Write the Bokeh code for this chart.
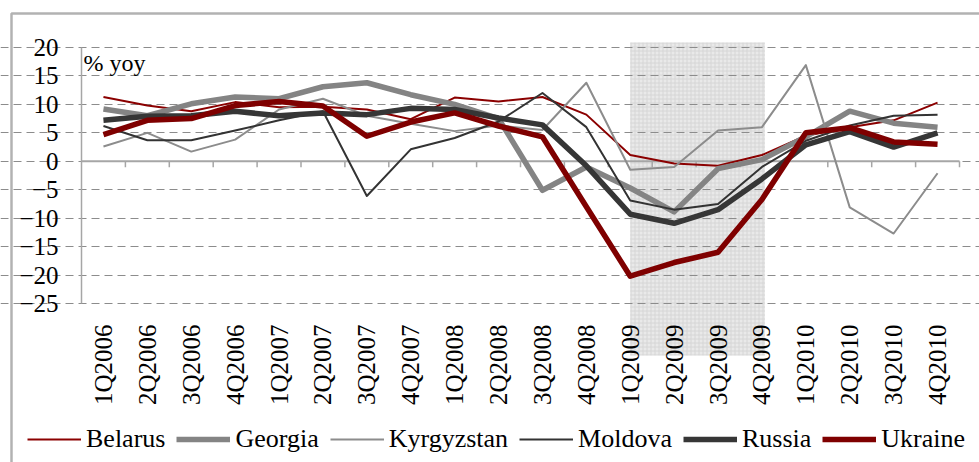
from bokeh.plotting import figure
from bokeh.models import (Range1d, FixedTicker, BoxAnnotation, Label, Legend, LegendItem)
from bokeh.embed import file_html
from bokeh.resources import INLINE
import math

quarters = ["1Q2006", "2Q2006", "3Q2006", "4Q2006", "1Q2007", "2Q2007", "3Q2007", "4Q2007",
            "1Q2008", "2Q2008", "3Q2008", "4Q2008", "1Q2009", "2Q2009", "3Q2009", "4Q2009",
            "1Q2010", "2Q2010", "3Q2010", "4Q2010"]

belarus = [11.3, 9.8, 8.8, 10.4, 9.5, 9.6, 9.1, 7.4, 11.2, 10.5, 11.3, 8.2,
           1.1, -0.4, -0.8, 1.1, 4.5, 6.0, 7.2, 10.3]
georgia = [9.2, 8.0, 10.1, 11.3, 11.0, 13.1, 13.8, 11.7, 10.0, 7.5, -5.1, -1.0,
           -4.7, -8.9, -1.3, 0.3, 4.3, 8.8, 6.7, 6.0]
kyrgyzstan = [2.6, 5.0, 1.7, 3.8, 9.1, 11.0, 8.0, 6.6, 5.3, 6.3, 5.5, 13.8,
              -1.5, -1.0, 5.4, 6.0, 16.9, -8.1, -12.7, -2.1]
moldova = [6.2, 3.7, 3.7, 5.4, 7.2, 8.8, -6.1, 2.1, 4.1, 7.0, 12.0, 6.0,
           -6.9, -8.5, -7.5, -1.0, 3.6, 6.3, 8.0, 8.2]
russia = [7.2, 7.9, 8.0, 8.8, 8.0, 8.5, 8.2, 9.3, 9.1, 7.6, 6.4, -0.8,
          -9.3, -10.9, -8.5, -3.1, 2.9, 5.2, 2.5, 5.0]
ukraine = [4.7, 7.2, 7.5, 9.8, 10.5, 9.7, 4.4, 6.9, 8.5, 6.2, 4.3, -8.0,
           -20.2, -17.8, -16.0, -6.7, 5.0, 5.9, 3.4, 3.0]

y_ticks = [-25, -20, -15, -10, -5, 0, 5, 10, 15, 20]
shade_from, shade_to = "1Q2009", "4Q2009"
unit_label = "% yoy"

series = [
    ("Belarus", belarus, "#8b0000", 2),
    ("Georgia", georgia, "#848484", 5.5),
    ("Kyrgyzstan", kyrgyzstan, "#8c8c8c", 2),
    ("Moldova", moldova, "#333333", 2),
    ("Russia", russia, "#363636", 5.5),
    ("Ukraine", ukraine, "#7f0000", 5.5),
]

FONT = "Liberation Serif"

# layout (pixels): canvas size and plot-area box inside it
W, H = 979, 462
PL, PR, PT, PB = 81, 959, 47, 303

n = len(quarters)
xs = list(range(n))
ymin, ymax = y_ticks[0], y_ticks[-1]
xlo, xhi = -0.5, n - 0.5
xu = (PR - PL) / (xhi - xlo)
yu = (PB - PT) / (ymax - ymin)
x_range = Range1d(xlo - PL / xu, xhi + (W - PR) / xu)
y_range = Range1d(ymin - (H - PB) / yu, ymax + PT / yu)

p = figure(width=W, height=H, x_range=x_range, y_range=y_range, title=None,
           output_backend="svg", toolbar_location=None,
           min_border=0, x_axis_type=None, y_axis_type=None)
p.outline_line_color = None
p.background_fill_color = "white"
p.border_fill_color = "white"
p.xgrid.visible = False

from bokeh.models import LinearAxis, Grid

yaxis = LinearAxis(ticker=FixedTicker(ticks=y_ticks), fixed_location=xlo, bounds=(ymin, ymax))
yaxis.axis_line_color = "#a6a6a6"
yaxis.axis_line_width = 1.5
yaxis.major_tick_line_color = None
yaxis.minor_tick_line_color = None
yaxis.major_label_text_font = FONT
yaxis.major_label_text_font_size = "25px"
yaxis.major_label_text_color = "black"
yaxis.major_label_standoff = 17
p.add_layout(yaxis, "left")

xaxis = LinearAxis(ticker=FixedTicker(ticks=xs), fixed_location=ymin,
                   major_label_overrides={i: q for i, q in enumerate(quarters)})
xaxis.axis_line_color = None
xaxis.major_tick_line_color = None
xaxis.minor_tick_line_color = None
xaxis.major_label_orientation = math.pi / 2
xaxis.major_label_text_font = FONT
xaxis.major_label_text_font_size = "25px"
xaxis.major_label_text_color = "black"
xaxis.major_label_standoff = 15
p.add_layout(xaxis, "below")

ygrid = Grid(dimension=1, ticker=FixedTicker(ticks=y_ticks), bounds=(xlo, xhi),
             grid_line_color="#8c8c8c", grid_line_dash="8 5", grid_line_width=1)
p.add_layout(ygrid)

# shaded band (recession period)
band = BoxAnnotation(left=quarters.index(shade_from), right=quarters.index(shade_to) + 0.07,
                     top=H - 42, bottom=H - 355, top_units="screen", bottom_units="screen",
                     fill_color="#e9e9e9", fill_alpha=1.0, line_color=None,
                     hatch_pattern="+", hatch_color="#d6d6d6", hatch_scale=4, hatch_weight=1,
                     level="image")
p.add_layout(band)

# zero axis line with category tick marks
p.segment(x0=[xlo], y0=[0], x1=[xhi], y1=[0], line_color="#a6a6a6", line_width=2)
bounds = [i + 0.5 for i in xs]
tick_len = 6 / yu
p.segment(x0=bounds, y0=[0] * n, x1=bounds, y1=[-tick_len] * n,
          line_color="#a6a6a6", line_width=1.5)

items = []
for name, vals, color, w in series:
    r = p.line(xs, vals, line_color=color, line_width=w, line_join="round")
    items.append(LegendItem(label=name, renderers=[r]))

legend = Legend(items=items, orientation="horizontal", location=(27, H - 454),
                label_text_font=FONT, label_text_font_size="26px", label_text_color="black",
                glyph_width=54, glyph_height=26, label_standoff=5, spacing=11,
                padding=0, margin=0, border_line_color=None, background_fill_alpha=0)
p.add_layout(legend, "center")

p.add_layout(Label(x=xlo, y=ymax, text=unit_label, text_baseline="top", x_offset=2,
                   y_offset=-2, text_font=FONT, text_font_size="24px", text_color="black"))

# outer frame
p.add_layout(BoxAnnotation(left=11, right=W + 50, top=H - 13, bottom=-50,
                           left_units="screen", right_units="screen",
                           top_units="screen", bottom_units="screen",
                           fill_alpha=0, line_color="black", line_width=2.5, level="overlay"))

open("out.html", "w").write(file_html(p, INLINE))
